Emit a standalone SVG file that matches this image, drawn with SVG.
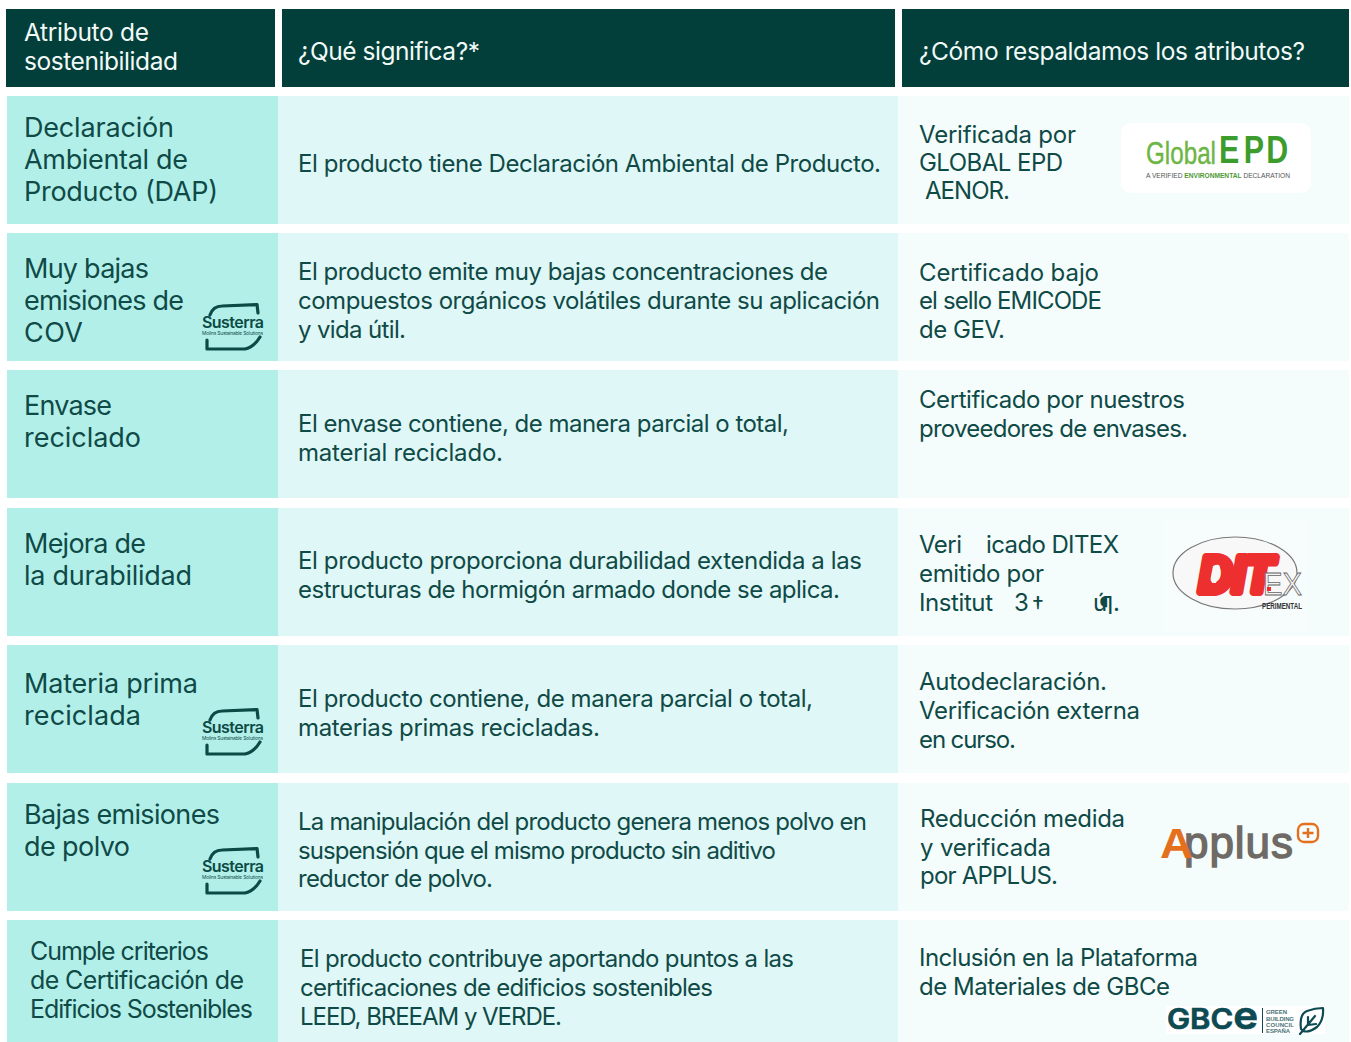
<svg xmlns="http://www.w3.org/2000/svg" width="1351" height="1042" viewBox="0 0 1351 1042">
<style>
text{font-family:"Inter","Liberation Sans",sans-serif;fill:#0f4a47}
.h{fill:#f2faf8;font-size:24.5px}
.a{font-size:27px}
.a2{font-size:25px}
.b{font-size:24px}
.hd{fill:#023f3a}
.c1{fill:#b3efe9}
.c2{fill:#dff7f6}
.c3{fill:#f4fdfc}
.lg{font-family:"Liberation Sans",sans-serif}
.st{fill:none;stroke:#0b4a45;stroke-width:3.2;stroke-linecap:round;stroke-linejoin:round}
.su{font-weight:600;font-size:16px;fill:#0b4a45}
.sm{font-size:4.800px;fill:#0b4a45}
.gb{font-weight:700;font-size:6px;fill:#4a7478}
</style>
<defs>
<g id="susterra">
<path class="st" d="M210 315Q213 306 222 306L257 304.500L258 313"/>
<path class="st" d="M207 340L207 349L245 349Q254 347 260 337"/>
<text class="su" x="202" y="328" textLength="62">Susterra</text>
<text class="sm" x="202" y="335" textLength="61">Molins Sustainable Solutions</text>
</g>
</defs>
<rect width="1351" height="1042" fill="#fff"/>

<g id="header">
<rect class="hd" x="6" y="9" width="269" height="78"/>
<rect class="hd" x="282" y="9" width="613" height="78"/>
<rect class="hd" x="902" y="9" width="447" height="78"/>
<text class="h" x="24" y="41" textLength="125">Atributo de</text>
<text class="h" x="24" y="70" textLength="154">sostenibilidad</text>
<text class="h" x="298" y="60" textLength="182">¿Qué significa?*</text>
<text class="h" x="919" y="60" textLength="386">¿Cómo respaldamos los atributos?</text>
</g>

<g id="row-dap">
<rect class="c1" x="7" y="96" width="271" height="128"/>
<rect class="c2" x="278" y="96" width="620" height="128"/>
<rect class="c3" x="898" y="96" width="451" height="128"/>
<text class="a" x="24" y="137" textLength="150">Declaración</text>
<text class="a" x="24" y="169" textLength="164">Ambiental de</text>
<text class="a" x="24" y="201" textLength="194">Producto (DAP)</text>
<text class="b" x="298" y="172" textLength="583">El producto tiene Declaración Ambiental de Producto.</text>
<text class="b" x="919" y="143" textLength="157">Verificada por</text>
<text class="b" x="919" y="171" textLength="144">GLOBAL EPD</text>
<text class="b" x="925" y="199" textLength="85">AENOR.</text>
<g id="logo-globalepd">
<rect x="1121" y="123" width="190" height="70" rx="10" fill="#fff"/>
<text class="lg" x="1146" y="164" font-size="31" textLength="70" lengthAdjust="spacingAndGlyphs" style="fill:#6db544;stroke:#6db544;stroke-width:.4">Global</text>
<text class="lg" x="1219" y="163" font-size="38" font-weight="700" textLength="71" lengthAdjust="spacing" style="fill:#3c9c2c;letter-spacing:0" transform="translate(1219 0) scale(.8 1) translate(-1219 0)"><tspan x="1219 1250 1278">EPD</tspan></text>
<text class="lg" x="1146" y="178" font-size="8" textLength="144" lengthAdjust="spacingAndGlyphs" style="fill:#555"><tspan>A VERIFIED </tspan><tspan font-weight="700" style="fill:#4f9a35">ENVIRONMENTAL</tspan><tspan> DECLARATION</tspan></text>
</g>
</g>

<g id="row-cov">
<rect class="c1" x="7" y="233" width="271" height="128"/>
<rect class="c2" x="278" y="233" width="620" height="128"/>
<rect class="c3" x="898" y="233" width="451" height="128"/>
<text class="a" x="24" y="278" textLength="125">Muy bajas</text>
<text class="a" x="24" y="310" textLength="160">emisiones de</text>
<text class="a" x="24" y="342" textLength="59">COV</text>
<use href="#susterra"/>
<text class="b" x="298" y="280" textLength="530">El producto emite muy bajas concentraciones de</text>
<text class="b" x="298" y="309" textLength="582">compuestos orgánicos volátiles durante su aplicación</text>
<text class="b" x="298" y="338" textLength="108">y vida útil.</text>
<text class="b" x="919" y="281" textLength="180">Certificado bajo</text>
<text class="b" x="919" y="309" textLength="183">el sello EMICODE</text>
<text class="b" x="919" y="338" textLength="86">de GEV.</text>
</g>

<g id="row-envase">
<rect class="c1" x="7" y="370" width="271" height="128"/>
<rect class="c2" x="278" y="370" width="620" height="128"/>
<rect class="c3" x="898" y="370" width="451" height="128"/>
<text class="a" x="24" y="415" textLength="88">Envase</text>
<text class="a" x="24" y="447" textLength="117">reciclado</text>
<text class="b" x="298" y="432" textLength="491">El envase contiene, de manera parcial o total,</text>
<text class="b" x="298" y="461" textLength="205">material reciclado.</text>
<text class="b" x="919" y="408" textLength="266">Certificado por nuestros</text>
<text class="b" x="919" y="437" textLength="269">proveedores de envases.</text>
</g>

<g id="row-durabilidad">
<rect class="c1" x="7" y="508" width="271" height="128"/>
<rect class="c2" x="278" y="508" width="620" height="128"/>
<rect class="c3" x="898" y="508" width="451" height="128"/>
<text class="a" x="24" y="553" textLength="122">Mejora de</text>
<text class="a" x="24" y="585" textLength="168">la durabilidad</text>
<text class="b" x="298" y="569" textLength="564">El producto proporciona durabilidad extendida a las</text>
<text class="b" x="298" y="598" textLength="542">estructuras de hormigón armado donde se aplica.</text>
<text class="b" x="919" y="553" textLength="43">Veri</text>
<text class="b" x="986" y="553" textLength="133">icado DITEX</text>
<text class="b" x="919" y="582" textLength="125">emitido por</text>
<text class="b" x="919" y="611" textLength="74">Institut</text>
<text class="b" x="1014" y="611">3</text>
<text class="b" x="1032" y="614">†</text>
<text class="b" x="1093" y="611">ú</text>
<text class="b" x="1099" y="614">¶</text>
<text class="b" x="1113" y="611">.</text>
<g id="logo-ditex">
<rect x="1163" y="520" width="144" height="112" fill="#f7fcfc"/>
<ellipse cx="1235" cy="573" rx="62" ry="36" fill="#f8f8f8" stroke="#777" stroke-width="1.200"/>
<text class="lg" x="1199" y="592" font-size="50" font-weight="700" font-style="italic" textLength="74" lengthAdjust="spacingAndGlyphs" style="fill:#ee2f2f;stroke:#ee2f2f;stroke-width:8;stroke-linejoin:round">DIT</text>
<path d="M1213 566Q1221 562 1220 570L1216 583Q1209 584 1211 576Z" fill="#f8f8f8"/>
<text class="lg" x="1263" y="595" font-size="32" textLength="39" lengthAdjust="spacingAndGlyphs" style="fill:#f4f4f4;stroke:#666;stroke-width:.8">EX</text>
<rect x="1267" y="587" width="4" height="4" fill="#ee2f2f"/>
<text class="lg" x="1262" y="609" font-size="8.500" font-weight="700" textLength="40" lengthAdjust="spacingAndGlyphs" style="fill:#333">PERIMENTAL</text>
</g>
</g>

<g id="row-materia">
<rect class="c1" x="7" y="645" width="271" height="128"/>
<rect class="c2" x="278" y="645" width="620" height="128"/>
<rect class="c3" x="898" y="645" width="451" height="128"/>
<text class="a" x="24" y="693" textLength="174">Materia prima</text>
<text class="a" x="24" y="725" textLength="117">reciclada</text>
<use href="#susterra" y="405"/>
<text class="b" x="298" y="707" textLength="515">El producto contiene, de manera parcial o total,</text>
<text class="b" x="298" y="736" textLength="302">materias primas recicladas.</text>
<text class="b" x="919" y="690" textLength="188">Autodeclaración.</text>
<text class="b" x="919" y="719" textLength="221">Verificación externa</text>
<text class="b" x="919" y="748" textLength="97">en curso.</text>
</g>

<g id="row-polvo">
<rect class="c1" x="7" y="783" width="271" height="128"/>
<rect class="c2" x="278" y="783" width="620" height="128"/>
<rect class="c3" x="898" y="783" width="451" height="128"/>
<text class="a" x="24" y="824" textLength="196">Bajas emisiones</text>
<text class="a" x="24" y="856" textLength="106">de polvo</text>
<use href="#susterra" y="544"/>
<text class="b" x="298" y="830" textLength="569">La manipulación del producto genera menos polvo en</text>
<text class="b" x="298" y="859" textLength="478">suspensión que el mismo producto sin aditivo</text>
<text class="b" x="298" y="887" textLength="195">reductor de polvo.</text>
<text class="b" x="920" y="827" textLength="205">Reducción medida</text>
<text class="b" x="920" y="856" textLength="131">y verificada</text>
<text class="b" x="920" y="884" textLength="138">por APPLUS.</text>
<g id="logo-applus">
<text class="lg" x="1184" y="858" font-size="44" textLength="109" style="fill:#706a66;stroke:#706a66;stroke-width:1.400">pplus</text>
<text class="lg" x="1160" y="858" font-size="42" font-weight="700" textLength="33" lengthAdjust="spacingAndGlyphs" style="fill:#e4701e">A</text>
<rect x="1298" y="824" width="20" height="18" rx="6" fill="none" stroke="#e4701e" stroke-width="2.400"/>
<path d="M1308 828V838M1302.500 833H1313.500" fill="none" stroke="#e4701e" stroke-width="2.400"/>
</g>
</g>

<g id="row-certificacion">
<rect class="c1" x="7" y="920" width="271" height="122"/>
<rect class="c2" x="278" y="920" width="620" height="122"/>
<rect class="c3" x="898" y="920" width="451" height="122"/>
<text class="a2" x="30" y="960" textLength="179">Cumple criterios</text>
<text class="a2" x="30" y="989" textLength="214">de Certificación de</text>
<text class="a2" x="30" y="1018" textLength="223">Edificios Sostenibles</text>
<text class="b" x="300" y="967" textLength="494">El producto contribuye aportando puntos a las</text>
<text class="b" x="300" y="996" textLength="413">certificaciones de edificios sostenibles</text>
<text class="b" x="300" y="1025" textLength="262">LEED, BREEAM y VERDE.</text>
<text class="b" x="919" y="966" textLength="279">Inclusión en la Plataforma</text>
<text class="b" x="919" y="995" textLength="251">de Materiales de GBCe</text>
<g id="logo-gbce">
<rect x="1166" y="1006" width="159" height="28" fill="#fff"/>
<text x="1167" y="1029" font-weight="600" textLength="91" lengthAdjust="spacingAndGlyphs" style="fill:#0d4a52;stroke:#0d4a52;stroke-width:.7;font-size:28px">GBC<tspan style="font-size:38px">e</tspan></text>
<path d="M1262.500 1008V1033" stroke="#0d4a52" stroke-width="1"/>
<text class="lg gb" x="1266" y="1014" textLength="21">GREEN</text>
<text class="lg gb" x="1266" y="1021" textLength="28">BUILDING</text>
<text class="lg gb" x="1266" y="1027" textLength="28">COUNCIL</text>
<text class="lg gb" x="1266" y="1033" textLength="24">ESPAÑA</text>
<path d="M1301 1029Q1299 1014 1307 1011Q1315 1008 1323 1008Q1324 1020 1317 1027Q1309 1033 1303 1031ZM1300 1034L1315 1016M1308 1025L1308 1017M1308 1025L1316 1024" fill="none" stroke="#0d4a52" stroke-width="2.200" stroke-linejoin="round" stroke-linecap="round"/>
</g>
</g>
</svg>
